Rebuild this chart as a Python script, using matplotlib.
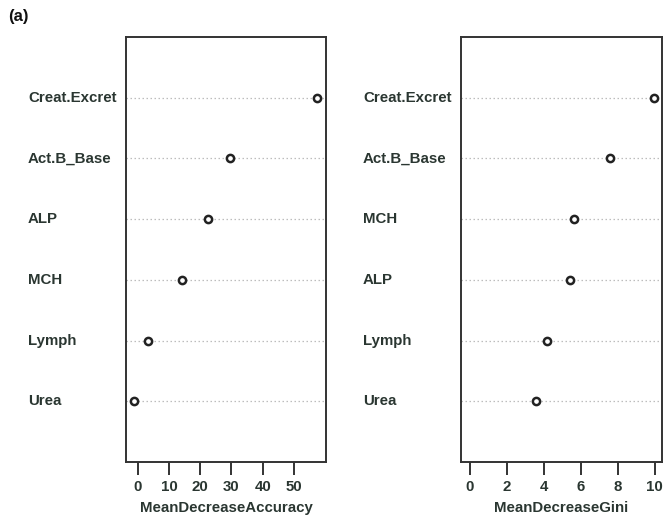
import matplotlib
matplotlib.use("Agg")
import matplotlib.pyplot as plt
import matplotlib.transforms as mtransforms

plt.rcParams['font.family'] = ['Liberation Sans', 'DejaVu Sans']

acc_labels = ["Urea", "Lymph", "MCH", "ALP", "Act.B_Base", "Creat.Excret"]
acc_values = [-1.3, 3.2, 14.1, 22.4, 29.5, 57.4]
acc_ticks = [0, 10, 20, 30, 40, 50]

gini_labels = ["Urea", "Lymph", "ALP", "MCH", "Act.B_Base", "Creat.Excret"]
gini_values = [3.58, 4.17, 5.42, 5.64, 7.59, 9.97]
gini_ticks = [0, 2, 4, 6, 8, 10]

W, H = 664, 516
fig = plt.figure(figsize=(W / 100, H / 100), dpi=100)
txt_color = '#2a3631'
FS = 10.8

def panel(x0, x1, labels, values, ticks, xlim, xlabel, label_x):
    ax = fig.add_axes([x0 / W, (H - 462) / H, (x1 - x0) / W, (462 - 37) / H])
    ys = list(range(1, len(values) + 1))
    for y in ys:
        ax.axhline(y, color='#bdbdbd', lw=0.9, ls=(0, (1.2, 2.0)), zorder=1)
    ax.plot(values, ys, 'o', ms=5.2, mfc='white', mec='#222222', mew=1.8, ls='none', zorder=3)
    ax.set_xlim(*xlim)
    ax.set_ylim(0, 7)
    ax.set_yticks([])
    ax.set_xticks(ticks)
    ax.set_xticklabels([str(t) for t in ticks], fontsize=FS, fontweight='bold', color=txt_color)
    ax.tick_params(axis='x', length=9, width=1.4, color='#333333', pad=4)
    for s in ax.spines.values():
        s.set_linewidth(1.4)
        s.set_color('#333333')
    ax.set_xlabel(xlabel, fontsize=FS, fontweight='bold', color=txt_color, labelpad=5)
    tr = mtransforms.blended_transform_factory(fig.transFigure, ax.transData)
    for y, lab in zip(ys, labels):
        ax.text(label_x / W, y, lab, transform=tr, fontsize=FS,
                fontweight='bold', color=txt_color, ha='left', va='center')
    return ax

panel(126, 326, acc_labels, acc_values, acc_ticks, (-3.8, 60.3), "MeanDecreaseAccuracy", 28)
panel(461, 662, gini_labels, gini_values, gini_ticks, (-0.49, 10.4), "MeanDecreaseGini", 363)

fig.text(8 / W, 1 - 16 / H, "(a)", fontsize=12, fontweight='bold', color='#111111', ha='left', va='center')

fig.savefig("out.png", dpi=100)
